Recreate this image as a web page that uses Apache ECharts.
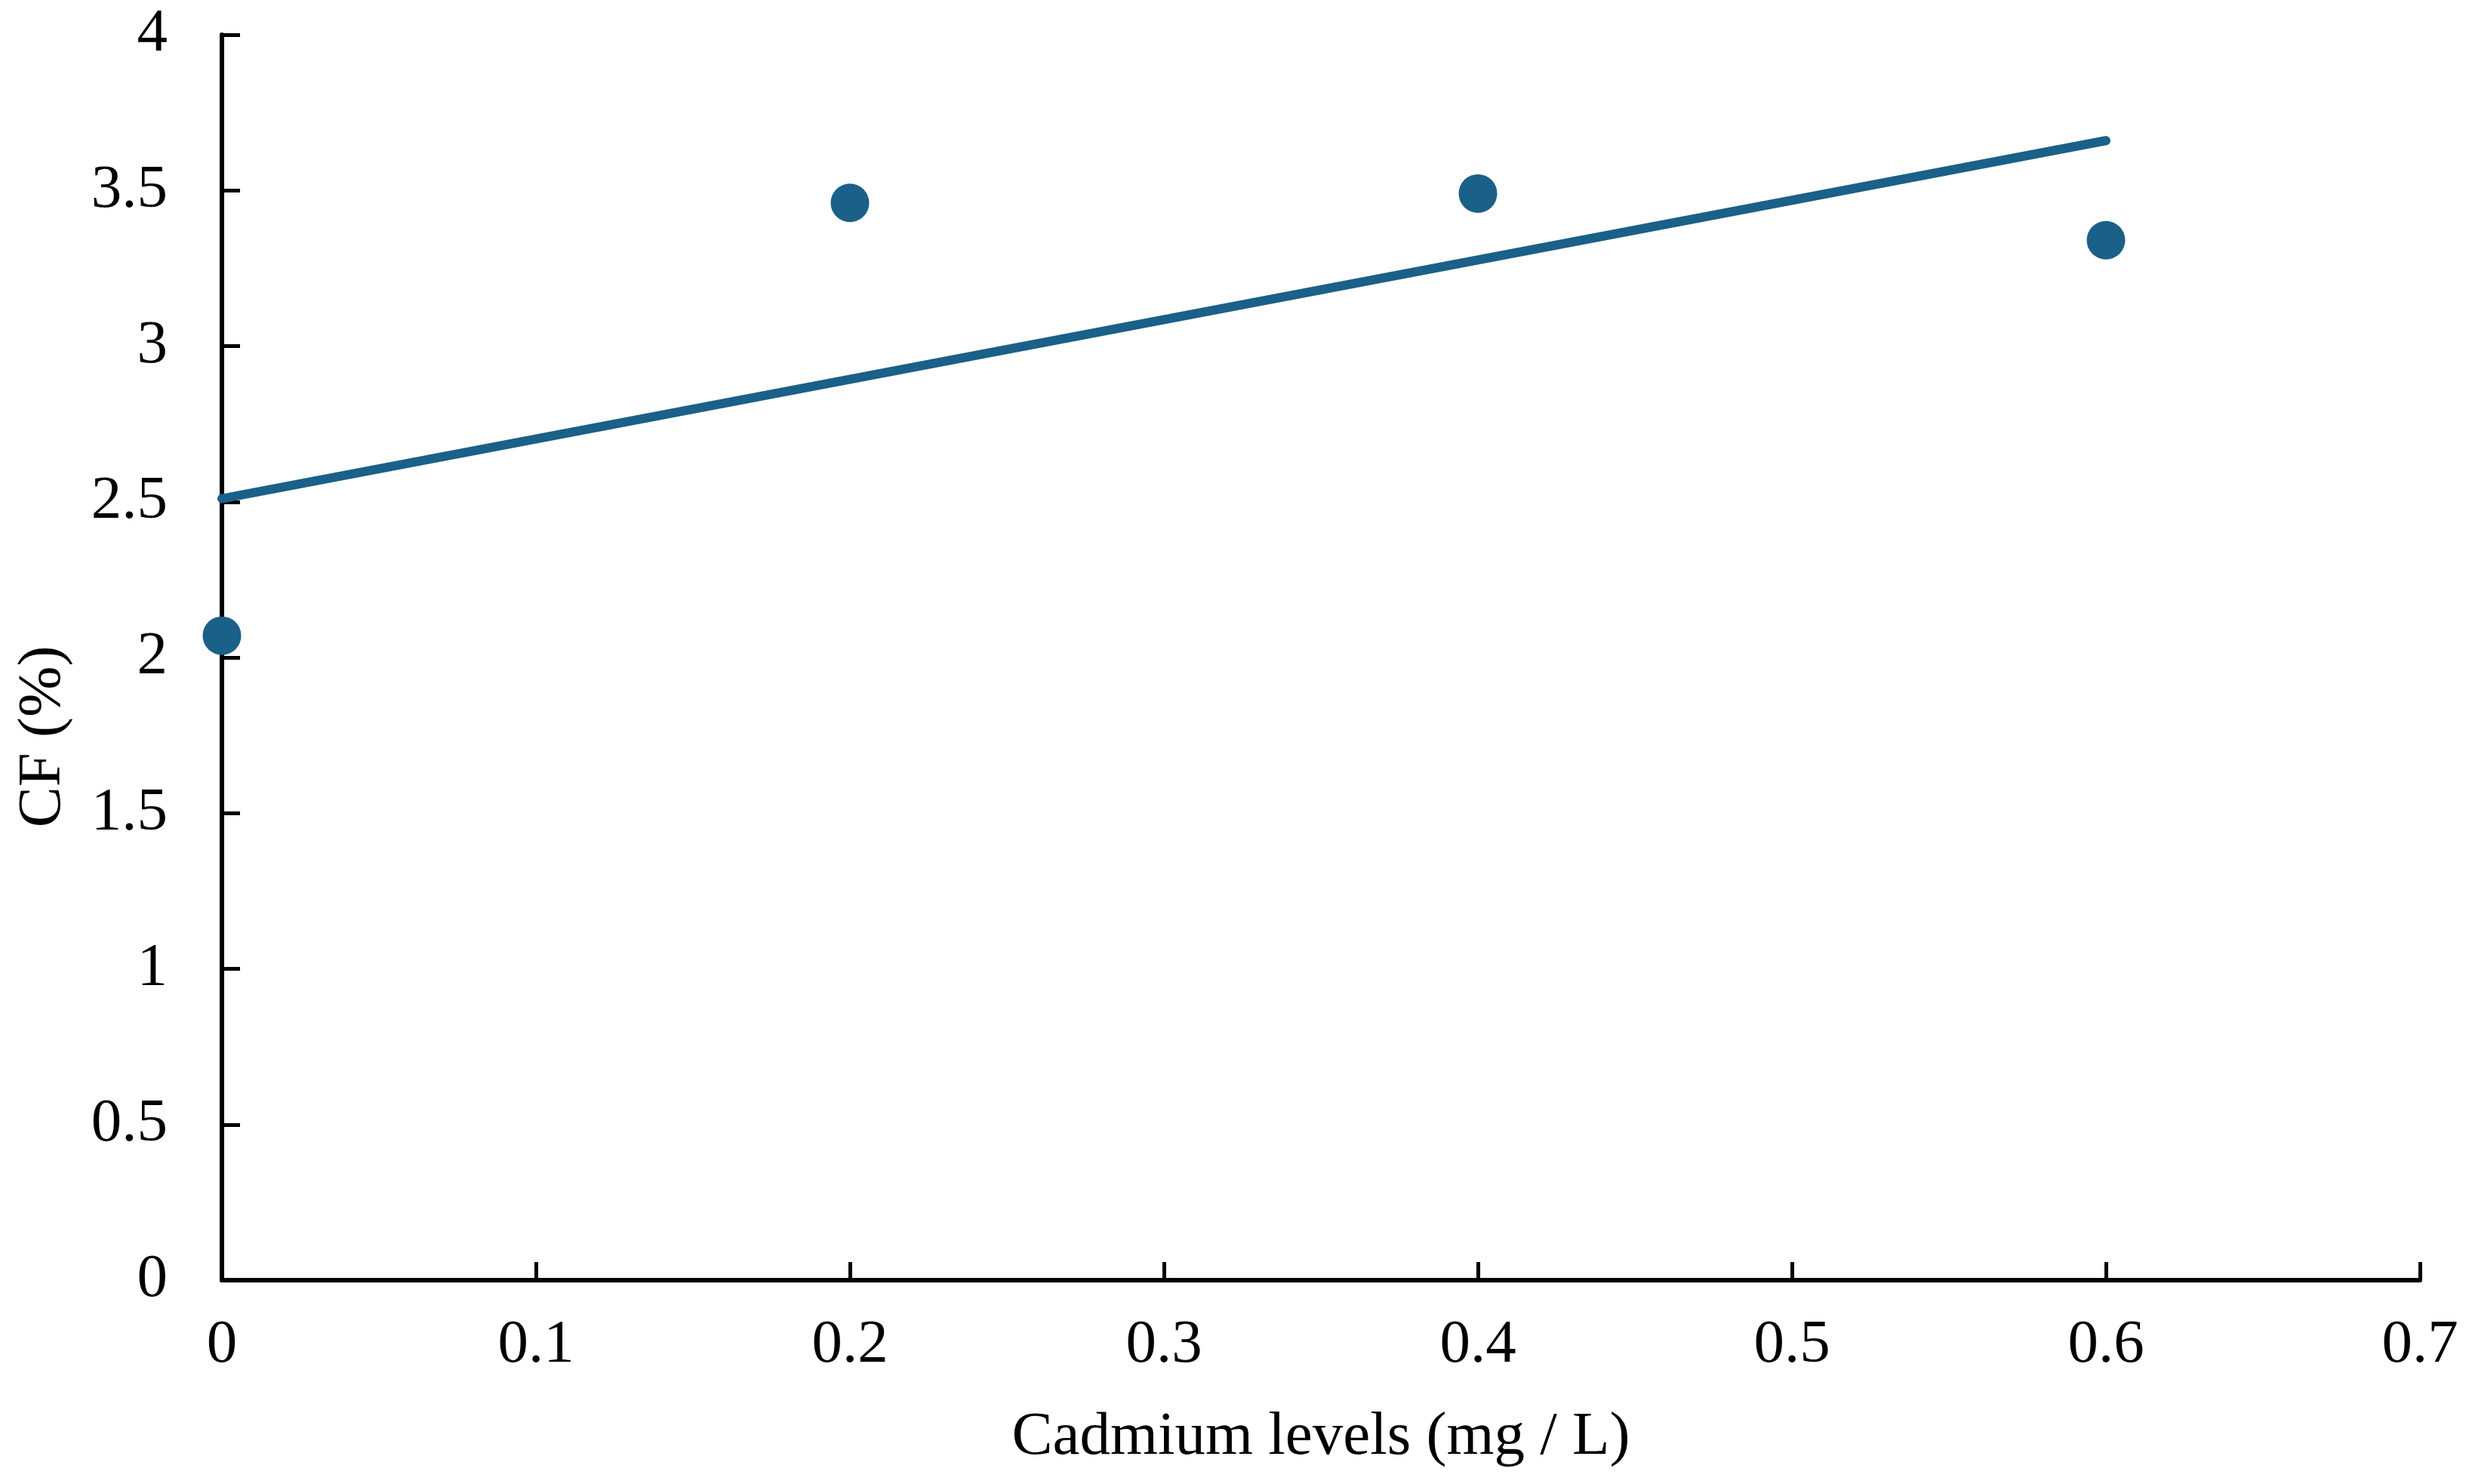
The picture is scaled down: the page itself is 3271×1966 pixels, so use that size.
<!DOCTYPE html>
<html>
<head>
<meta charset="utf-8">
<title>CF vs Cadmium levels</title>
<script src="https://cdn.jsdelivr.net/npm/echarts@6/dist/echarts.min.js"></script>
<style>
  html, body { margin: 0; padding: 0; background: #fff; }
  #main { width: 3271px; height: 1966px; }
</style>
</head>
<body>
<div id="main"></div>
<script>
// 数据
var cadmiumLevels = [0, 0.2, 0.4, 0.6];
var cfValues = [2.07, 3.46, 3.49, 3.34];
// 趋势线两端
var trendX = [0, 0.6];
var trendY = [2.51, 3.66];

var xName = 'Cadmium levels (mg / L)';
var yName = 'CF (%)';

var blue = '#1a6088';
var font = '"Liberation Serif", "Times New Roman", serif';

var pointData = [];
for (var i = 0; i < cadmiumLevels.length; i++) {
    pointData.push([cadmiumLevels[i], cfValues[i]]);
}
var trendData = [];
for (var j = 0; j < trendX.length; j++) {
    trendData.push([trendX[j], trendY[j]]);
}

var chart = echarts.init(document.getElementById('main'), null, {renderer: 'canvas'});

var axisCommon = {
    type: 'value'
    , axisLine: {show: true, onZero: false, lineStyle: {color: '#000', width: 6}}
    , axisTick: {show: true, inside: true, length: 24, lineStyle: {color: '#000', width: 5}}
    , splitLine: {show: false}
    , axisLabel: {color: '#000', fontFamily: font, fontSize: 81}
    , nameTextStyle: {color: '#000', fontFamily: font, fontSize: 81}
};

chart.setOption({
    backgroundColor: '#fff'
    , animation: false
    , grid: {left: 294, right: 65, top: 46, bottom: 270, containLabel: false}
    , xAxis: echarts.util.merge({
        min: 0
        , max: 0.7
        , interval: 0.1
        , name: xName
        , nameLocation: 'middle'
        , nameGap: 168
        , axisLabel: {margin: 46}
    }, axisCommon)
    , yAxis: echarts.util.merge({
        min: 0
        , max: 4
        , interval: 0.5
        , name: yName
        , nameLocation: 'middle'
        , nameGap: 196
        , nameTextStyle: {padding: [0, 210, 0, 0]}
        , axisLabel: {margin: 72}
    }, axisCommon)
    , series: [
        {
            type: 'line'
            , data: trendData
            , showSymbol: false
            , symbol: 'none'
            , lineStyle: {color: blue, width: 12, cap: 'round'}
            , z: 2
        }
        , {
            type: 'scatter'
            , data: pointData
            , symbol: 'circle'
            , symbolSize: 51
            , itemStyle: {color: blue, opacity: 1}
            , z: 3
        }
    ]
});
</script>
</body>
</html>
